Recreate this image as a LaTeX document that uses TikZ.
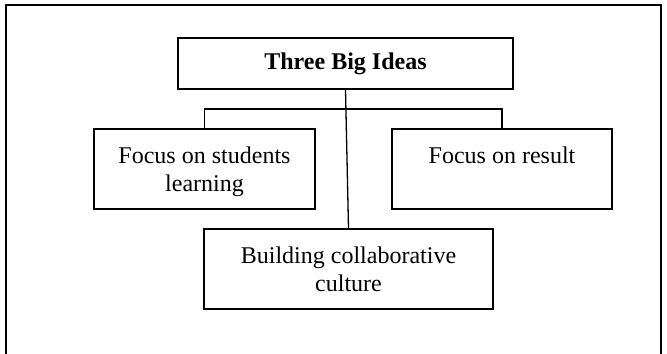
\documentclass[tikz,border=0pt]{standalone}
\usepackage{fontspec}
\setmainfont{Liberation Serif}
\begin{document}
\begin{tikzpicture}[x=0.5pt,y=-0.5pt,
  box/.style={draw,line width=0.65pt,rectangle,inner sep=0pt},
  lbl/.style={anchor=north,inner sep=0pt,align=center,font=\fontsize{12}{14}\selectfont},
  conn/.style={line width=0.65pt}]
\useasboundingbox (0,0) rectangle (667,353);
% outer frame (open at the bottom)
\draw[line width=0.7pt] (6,360) -- (6,5) -- (661,5) -- (661,360);
% boxes
\node[box,minimum width=167.5pt,minimum height=25.5pt] (title) at (345.5,63.5) {};
\node[box,minimum width=110.5pt,minimum height=40pt] (left) at (204.5,169) {};
\node[box,minimum width=110pt,minimum height=40pt] (right) at (502,169) {};
\node[box,minimum width=144.5pt,minimum height=40pt] (bottom) at (348.5,269) {};
% texts
\node[inner sep=0pt,font=\fontsize{12}{14}\selectfont\bfseries] (titletext) at (title.center) {Three Big Ideas};
\node[lbl] (lefttext) at (204.5,146) {Focus on students\\learning};
\node[lbl] (righttext) at (502,146) {Focus on result};
\node[lbl] (bottomtext) at (348.5,246) {Building collaborative\\culture};
% connectors
\coordinate (bar) at (0,109);
\draw[conn] (left.north) -- (left.north |- bar) -- (right.north |- bar) -- (right.north);
\draw[conn] (title.south) -- (bottom.north);
\end{tikzpicture}
\end{document}
